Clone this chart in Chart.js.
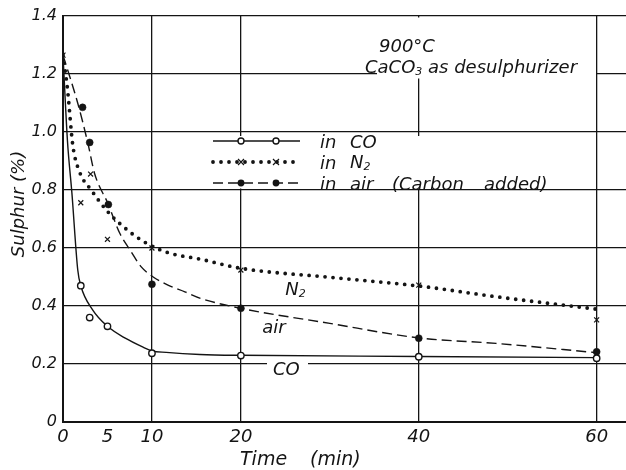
<!DOCTYPE html>
<html>
<head>
<meta charset="utf-8">
<script src="https://cdn.jsdelivr.net/npm/chart.js@4.4.1/dist/chart.umd.min.js"></script>
<style>
  html, body { margin: 0; padding: 0; background: #fff; }
  canvas { display: block; }
</style>
</head>
<body>
<canvas id="chart" width="626" height="470"></canvas>
<script>
// measured points: time (min) / sulphur (%)
const coTime = [2, 3, 5, 10, 20, 40, 60];
const coSulphur = [0.47, 0.36, 0.33, 0.237, 0.229, 0.225, 0.22];
const n2Time = [0, 2, 3.1, 5, 10, 20, 40, 60];
const n2Sulphur = [1.265, 0.756, 0.855, 0.63, 0.60, 0.524, 0.472, 0.352];
const airTime = [2.2, 3, 5.1, 10, 20, 40, 60];
const airSulphur = [1.085, 0.964, 0.75, 0.475, 0.392, 0.289, 0.242];

// hand drawn trend curves
const coCurveTime = [0, 0.5, 1, 1.66, 2, 3.35, 5, 7, 9, 10, 11.6, 15.4, 20, 40, 60];
const coCurveSulphur = [1.265, 0.97, 0.79, 0.524, 0.47, 0.386, 0.33, 0.289, 0.258, 0.245, 0.24, 0.233, 0.23, 0.226, 0.222];
const n2CurveTime = [0, 0.5, 1.1, 1.86, 3.17, 5.04, 6.36, 8.23, 10.1, 12, 15.5, 20, 30, 40, 48.7, 60];
const n2CurveSulphur = [1.265, 1.15, 0.955, 0.863, 0.80, 0.725, 0.685, 0.639, 0.605, 0.582, 0.561, 0.53, 0.499, 0.469, 0.432, 0.389];
const airCurveTime = [0, 1.66, 2.8, 3.55, 5.04, 6.4, 7.5, 8.8, 10.1, 11.8, 13.7, 15.5, 20, 30, 40, 48.7, 60];
const airCurveSulphur = [1.265, 1.099, 0.961, 0.857, 0.754, 0.65, 0.595, 0.535, 0.501, 0.472, 0.449, 0.426, 0.392, 0.34, 0.29, 0.271, 0.239];

const xTicks = [0, 5, 10, 20, 40, 60];
const yTicks = [0, 0.2, 0.4, 0.6, 0.8, 1.0, 1.2, 1.4];
const yTickLabels = ["0", "0.2", "0.4", "0.6", "0.8", "1.0", "1.2", "1.4"];

const ink = "#141414";
const FONT = '"DejaVu Sans", sans-serif';

function toXY(xs, ys) {
    return xs.map((x, i) => ({ x: x, y: ys[i] }));
}

function drawMarker(ctx, kind, x, y) {
    ctx.save();
    ctx.setLineDash([]);
    ctx.strokeStyle = ink;
    ctx.fillStyle = ink;
    if (kind === "open") {
        ctx.lineWidth = 1.4;
        ctx.fillStyle = "#fff";
        ctx.beginPath();
        ctx.arc(x, y, 3, 0, Math.PI * 2);
        ctx.fill();
        ctx.stroke();
    } else if (kind === "filled") {
        ctx.beginPath();
        ctx.arc(x, y, 3.4, 0, Math.PI * 2);
        ctx.fill();
    } else {
        ctx.lineWidth = 1.2;
        ctx.beginPath();
        ctx.moveTo(x - 3, y - 3); ctx.lineTo(x + 3, y + 3);
        ctx.moveTo(x + 3, y - 3); ctx.lineTo(x - 3, y + 3);
        ctx.stroke();
    }
    ctx.restore();
}

// text with a small subscript, e.g. N2 or CaCO3
function subText(ctx, base, sub, x, y, size, after) {
    ctx.font = "italic " + size + "px " + FONT;
    ctx.fillText(base, x, y);
    let w = ctx.measureText(base).width;
    ctx.font = "italic " + Math.round(size * 0.6) + "px " + FONT;
    ctx.fillText(sub, x + w, y + size * 0.12);
    w += ctx.measureText(sub).width;
    if (after) {
        ctx.font = "italic " + size + "px " + FONT;
        ctx.fillText(after, x + w, y);
    }
}

const paperPlugin = {
    id: "paper",
    beforeDraw(chart) {
        const ctx = chart.ctx;
        ctx.save();
        ctx.fillStyle = "#fff";
        ctx.fillRect(0, 0, chart.width, chart.height);
        ctx.restore();
    },
    beforeDatasetsDraw(chart) {
        // blank patches behind the lettering, as on the original sheet
        const ctx = chart.ctx;
        ctx.save();
        ctx.fillStyle = "#fff";
        ctx.fillRect(377, 17.5, 219, 61);
        ctx.fillRect(205, 136, 388, 52.5);
        ctx.fillRect(267, 360, 41, 14);
        ctx.restore();
    },
    afterDatasetsDraw(chart) {
        const ctx = chart.ctx;
        const xs = chart.scales.x;
        const ys = chart.scales.y;
        ctx.save();
        ctx.fillStyle = ink;
        ctx.textBaseline = "alphabetic";
        ctx.textAlign = "left";

        // heading
        ctx.font = "italic 18px " + FONT;
        ctx.fillText("900°C", 379, 52);
        subText(ctx, "CaCO", "3", 365, 73, 18, " as desulphurizer");

        // legend
        const rows = [
            { y: 141, kind: "open", dash: [], width: 1.4, base: "CO", sub: "" },
            { y: 162, kind: "cross", dash: [0, 8], width: 3.8, base: "N", sub: "2" },
            { y: 183, kind: "filled", dash: [10, 5], width: 1.4, base: "air", sub: "" }
        ];
        rows.forEach((r) => {
            ctx.save();
            ctx.strokeStyle = ink;
            ctx.lineWidth = r.width;
            ctx.lineCap = r.dash.length && r.dash[0] === 0 ? "round" : "butt";
            ctx.setLineDash(r.dash);
            ctx.beginPath();
            ctx.moveTo(213, r.y);
            ctx.lineTo(300, r.y);
            ctx.stroke();
            ctx.restore();
            drawMarker(ctx, r.kind, 241, r.y);
            drawMarker(ctx, r.kind, 276, r.y);
            ctx.font = "italic 18px " + FONT;
            ctx.fillText("in", 320, r.y + 7);
            if (r.sub) {
                subText(ctx, r.base, r.sub, 350, r.y + 6, 18);
            } else {
                ctx.font = "italic 18px " + FONT;
                ctx.fillText(r.base, 350, r.y + 7);
            }
        });
        ctx.font = "italic 18px " + FONT;
        ctx.fillText("(Carbon", 392, 190);
        ctx.fillText("added)", 484, 190);

        // curve labels placed in data units
        subText(ctx, "N", "2", xs.getPixelForValue(25), ys.getPixelForValue(0.438), 18);
        ctx.font = "italic 18px " + FONT;
        ctx.fillText("air", xs.getPixelForValue(22.4), ys.getPixelForValue(0.307));
        ctx.fillText("CO", xs.getPixelForValue(23.6), ys.getPixelForValue(0.162));

        // axis titles
        ctx.font = "italic 19px " + FONT;
        ctx.fillText("Time", 240, 465);
        ctx.fillText("(min)", 310, 465);
        ctx.translate(24, 204);
        ctx.rotate(-Math.PI / 2);
        ctx.textAlign = "center";
        ctx.font = "italic 18px " + FONT;
        ctx.fillText("Sulphur (%)", 0, 0);
        ctx.restore();
    }
};

const lineStyle = {
    showLine: true,
    pointRadius: 0,
    borderColor: ink,
    cubicInterpolationMode: "monotone",
    tension: 0.4,
    fill: false,
    order: 2
};

function noScalePadding(s) {
    s.paddingLeft = 0;
    s.paddingRight = 0;
    s.paddingTop = 0;
    s.paddingBottom = 0;
}

new Chart(document.getElementById("chart").getContext("2d"), {
    type: "scatter",
    data: {
        datasets: [
            Object.assign({ label: "CO curve", data: toXY(coCurveTime, coCurveSulphur), borderWidth: 1.4 }, lineStyle),
            Object.assign({ label: "N2 curve", data: toXY(n2CurveTime, n2CurveSulphur), borderWidth: 3.8,
                borderDash: [0, 8], borderCapStyle: "round" }, lineStyle),
            Object.assign({ label: "air curve", data: toXY(airCurveTime, airCurveSulphur), borderWidth: 1.4,
                borderDash: [10, 5] }, lineStyle),
            {
                label: "in CO", data: toXY(coTime, coSulphur), order: 0,
                pointStyle: "circle", pointRadius: 3.2, pointBackgroundColor: "#fff",
                pointBorderColor: ink, pointBorderWidth: 1.4
            },
            {
                label: "in N2", data: toXY(n2Time, n2Sulphur), order: 0,
                pointStyle: "crossRot", pointRadius: 3.5, pointBorderColor: ink, pointBorderWidth: 1.2
            },
            {
                label: "in air (Carbon added)", data: toXY(airTime, airSulphur), order: 0,
                pointStyle: "circle", pointRadius: 3.5, pointBackgroundColor: ink,
                pointBorderColor: ink, pointBorderWidth: 0.5
            }
        ]
    },
    options: {
        responsive: false,
        animation: false,
        devicePixelRatio: 1,
        layout: { autoPadding: false, padding: { top: 16, right: 0, left: 0, bottom: 0 } },
        plugins: { legend: { display: false }, tooltip: { enabled: false } },
        scales: {
            x: {
                type: "linear",
                min: 0,
                max: 63.3,
                afterBuildTicks: (s) => { s.ticks = xTicks.map((v) => ({ value: v })); },
                afterFit: (s) => { s.height = 48; noScalePadding(s); },
                grid: {
                    color: (c) => (c.tick && c.tick.value === 5 ? "rgba(0,0,0,0)" : ink),
                    lineWidth: 1.3,
                    drawTicks: false
                },
                border: { color: ink, width: 2 },
                ticks: {
                    color: ink, padding: 5, maxRotation: 0, autoSkip: false,
                    font: { family: FONT, style: "italic", size: 18 }
                }
            },
            y: {
                type: "linear",
                min: 0,
                max: 1.4,
                afterBuildTicks: (s) => { s.ticks = yTicks.map((v) => ({ value: v })); },
                afterFit: (s) => { s.width = 63; noScalePadding(s); },
                grid: { color: ink, lineWidth: 1.3, drawTicks: false },
                border: { color: ink, width: 2 },
                ticks: {
                    color: ink, padding: 6,
                    font: { family: FONT, style: "italic", size: 16 },
                    callback: (v, i) => yTickLabels[i]
                }
            }
        }
    },
    plugins: [paperPlugin]
});
</script>
</body>
</html>
